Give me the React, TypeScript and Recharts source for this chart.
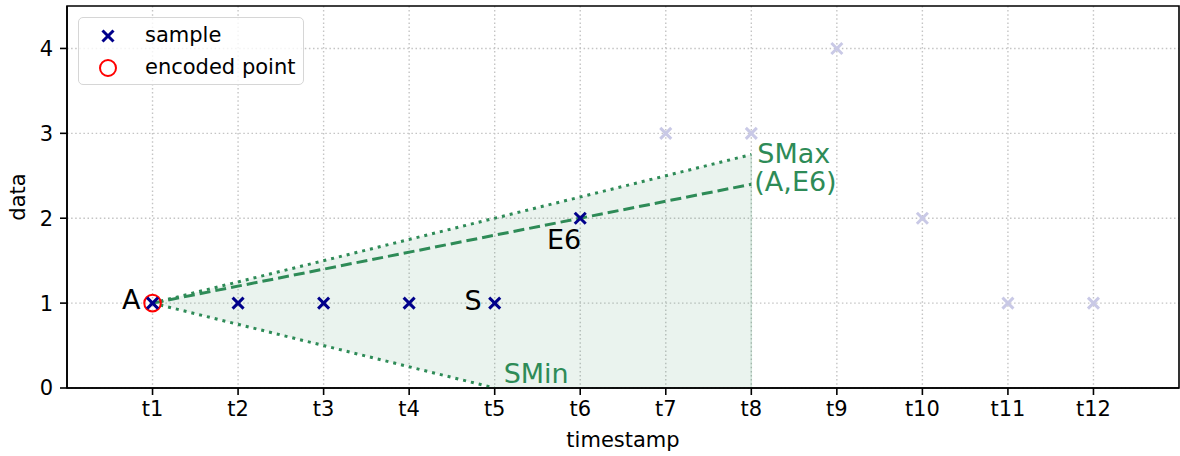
import React from "react";
import {
  Area,
  CartesianGrid,
  ComposedChart,
  Label,
  Legend,
  Line,
  ReferenceArea,
  Scatter,
  XAxis,
  YAxis,
} from "recharts";

const timestamps = [1, 2, 3, 4, 5, 6, 7, 8, 9, 10, 11, 12];
const timestampLabels = ["t1", "t2", "t3", "t4", "t5", "t6", "t7", "t8", "t9", "t10", "t11", "t12"];
const dataTicks = [0, 1, 2, 3, 4];

const samples = [
  { x: 1, y: 1 },
  { x: 2, y: 1 },
  { x: 3, y: 1 },
  { x: 4, y: 1 },
  { x: 5, y: 1 },
  { x: 6, y: 2 },
];
const laterSamples = [
  { x: 7, y: 3 },
  { x: 8, y: 3 },
  { x: 9, y: 4 },
  { x: 10, y: 2 },
  { x: 11, y: 1 },
  { x: 12, y: 1 },
];
const encodedPoints = [{ x: 1, y: 1 }];
const sMaxLine = [
  { x: 1, y: 1 },
  { x: 8, y: 2.75 },
];
const sMinLine = [
  { x: 1, y: 1 },
  { x: 5, y: 0 },
];
const aE6Line = [
  { x: 1, y: 1 },
  { x: 8, y: 2.4 },
];
const cone = [
  { x: 1, range: [1, 1] },
  { x: 5, range: [0, 2] },
  { x: 8, range: [0, 2.75] },
];
const coneEdge = [
  { x: 8, y: 0 },
  { x: 8, y: 2.75 },
];
const notes = [
  { x: 1, y: 1, text: "A" },
  { x: 5, y: 1, text: "S" },
  { x: 6, y: 2, text: "E6" },
  { x: 8, y: 2.75, text: "SMax" },
  { x: 8, y: 2.4, text: "(A,E6)" },
  { x: 5, y: 0, text: "SMin" },
];

const GREEN = "#2e8b57";
const NAVY = "#00008b";
const FONT = "'DejaVu Sans', sans-serif";
const SMALL = 21;

// where each note sits relative to its anchor point
const noteStyle: Record<string, { dx: number; dy: number; anchor: string; color: string }> = {
  A: { dx: -12, dy: 6, anchor: "end", color: "#000" },
  S: { dx: -13, dy: 7, anchor: "end", color: "#000" },
  E6: { dx: 1, dy: 31, anchor: "end", color: "#000" },
  SMax: { dx: 6, dy: 8, anchor: "start", color: GREEN },
  "(A,E6)": { dx: 3, dy: 7, anchor: "start", color: GREEN },
  SMin: { dx: 9, dy: -5, anchor: "start", color: GREEN },
};

const Cross = ({ cx, cy, color }: { cx: number; cy: number; color: string }) => (
  <g stroke={color} strokeWidth={3}>
    <line x1={cx - 5.5} y1={cy - 5.5} x2={cx + 5.5} y2={cy + 5.5} />
    <line x1={cx - 5.5} y1={cy + 5.5} x2={cx + 5.5} y2={cy - 5.5} />
  </g>
);

const NoteText = (props: any) => {
  const { cx, cy, payload } = props;
  const s = noteStyle[payload.text];
  return (
    <text
      x={cx + s.dx}
      y={cy + s.dy}
      textAnchor={s.anchor}
      fontSize={27}
      fontFamily={FONT}
      fill={s.color}
    >
      {payload.text}
    </text>
  );
};

const LegendBox = () => (
  <div
    style={{
      position: "relative",
      width: 226,
      height: 68,
      boxSizing: "border-box",
      border: "1.5px solid #d6d6d6",
      borderRadius: 5,
      background: "rgba(255,255,255,0.8)",
      fontFamily: FONT,
      fontSize: SMALL,
      color: "#000",
    }}
  >
    <svg width={40} height={68} style={{ position: "absolute", left: 9, top: 0 }}>
      <Cross cx={20} cy={18} color={NAVY} />
      <circle cx={20} cy={50} r={8} fill="none" stroke="red" strokeWidth={2} />
    </svg>
    <div style={{ position: "absolute", left: 66, top: 4, lineHeight: "26px" }}>sample</div>
    <div style={{ position: "absolute", left: 66, top: 36, lineHeight: "26px" }}>encoded point</div>
  </div>
);

const XTitle = (props: any) => {
  const { viewBox } = props;
  return (
    <text
      x={viewBox.x + viewBox.width / 2}
      y={viewBox.y + 59}
      textAnchor="middle"
      fontSize={SMALL}
      fontFamily={FONT}
      fill="#000"
    >
      timestamp
    </text>
  );
};

const YTitle = (props: any) => {
  const { viewBox } = props;
  const x = viewBox.x + 25;
  const y = viewBox.y + viewBox.height / 2;
  return (
    <text
      x={x}
      y={y}
      transform={`rotate(-90 ${x} ${y})`}
      textAnchor="middle"
      fontSize={SMALL}
      fontFamily={FONT}
      fill="#000"
    >
      data
    </text>
  );
};

const tickStyle = { fontSize: SMALL, fontFamily: FONT, fill: "#000" };

export default function App() {
  return (
    <div style={{ position: "absolute", left: 0, top: 0, background: "#fff" }}>
      <ComposedChart
        width={1180}
        height={456}
        margin={{ top: 6, right: 1, bottom: 0, left: 0 }}
      >
        <CartesianGrid
          stroke="#c4c4c4"
          strokeWidth={1.4}
          strokeDasharray="1.5 2.6"
          horizontalValues={dataTicks}
          verticalValues={timestamps}
        />
        <XAxis
          type="number"
          dataKey="x"
          domain={[0, 13]}
          ticks={timestamps}
          tickFormatter={(v: number) => timestampLabels[timestamps.indexOf(v)]}
          allowDataOverflow
          height={68}
          tick={tickStyle}
          tickSize={7}
          tickMargin={6}
          stroke="#000"
          strokeWidth={1.6}
        >
          <Label content={XTitle} />
        </XAxis>
        <YAxis
          type="number"
          dataKey="y"
          domain={[0, 4.5]}
          ticks={dataTicks}
          allowDataOverflow
          width={67}
          tick={tickStyle}
          tickSize={7}
          tickMargin={7}
          stroke="#000"
          strokeWidth={1.6}
        >
          <Label content={YTitle} />
        </YAxis>
        <Area
          data={cone}
          dataKey="range"
          type="linear"
          fill={GREEN}
          fillOpacity={0.1}
          stroke="none"
          isAnimationActive={false}
        />
        <Line
          data={coneEdge}
          dataKey="y"
          type="linear"
          stroke={GREEN}
          strokeOpacity={0.18}
          strokeWidth={1.5}
          dot={false}
          isAnimationActive={false}
        />
        <Line
          data={sMaxLine}
          dataKey="y"
          type="linear"
          stroke={GREEN}
          strokeWidth={3}
          strokeDasharray="3 5"
          dot={false}
          isAnimationActive={false}
        />
        <Line
          data={sMinLine}
          dataKey="y"
          type="linear"
          stroke={GREEN}
          strokeWidth={3}
          strokeDasharray="3 5"
          dot={false}
          isAnimationActive={false}
        />
        <Line
          data={aE6Line}
          dataKey="y"
          type="linear"
          stroke={GREEN}
          strokeWidth={3}
          strokeDasharray="11 5"
          dot={false}
          isAnimationActive={false}
        />
        <Scatter
          data={laterSamples}
          shape={(p: any) => <Cross cx={p.cx} cy={p.cy} color="#c9c9e6" />}
          isAnimationActive={false}
        />
        <Scatter
          data={encodedPoints}
          shape={(p: any) => (
            <circle cx={p.cx} cy={p.cy} r={8.3} fill="none" stroke="red" strokeWidth={2} />
          )}
          isAnimationActive={false}
        />
        <Scatter
          data={samples}
          shape={(p: any) => <Cross cx={p.cx} cy={p.cy} color={NAVY} />}
          isAnimationActive={false}
        />
        <Scatter data={notes} shape={NoteText} isAnimationActive={false} />
        <ReferenceArea
          x1={0}
          x2={13}
          y1={0}
          y2={4.5}
          fill="none"
          stroke="#000"
          strokeWidth={1.6}
          fillOpacity={0}
        />
        <Legend
          layout="horizontal"
          verticalAlign="middle"
          align="center"
          content={LegendBox}
          wrapperStyle={{ left: 78, top: 17, width: 226, height: 68 }}
        />
      </ComposedChart>
    </div>
  );
}
